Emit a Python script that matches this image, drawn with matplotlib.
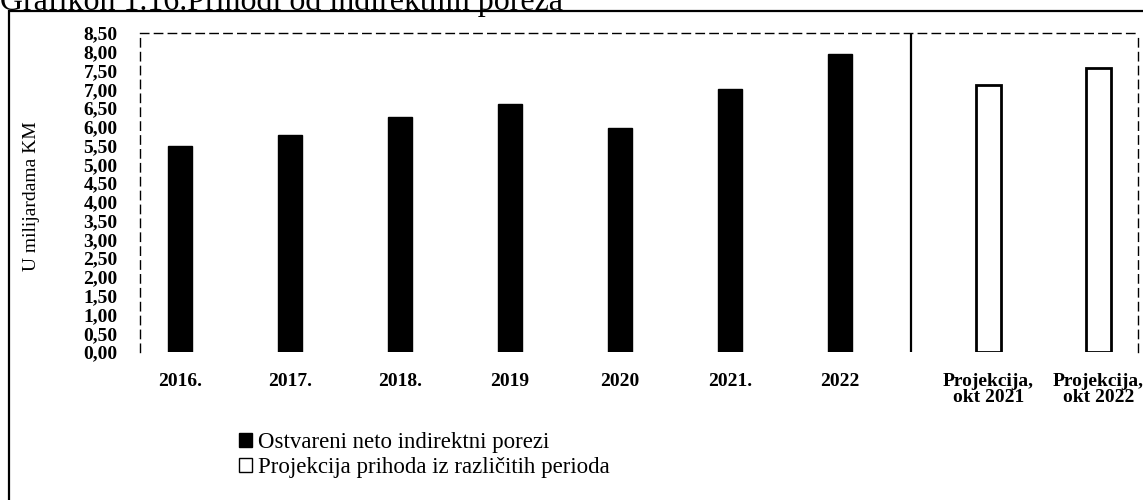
import matplotlib.pyplot as plt
from matplotlib.patches import Patch, Rectangle

# values in billions KM
years = ["2016.", "2017.", "2018.", "2019", "2020", "2021.", "2022"]
actual = [5.50, 5.77, 6.26, 6.60, 5.96, 7.01, 7.94]
proj_labels = ["Projekcija,\nokt 2021", "Projekcija,\nokt 2022"]
projections = [7.12, 7.57]
y_ticks = [i * 0.5 for i in range(18)]

plt.rcParams["font.family"] = ["Liberation Serif", "DejaVu Serif"]

W, H = 1143, 500
fig = plt.figure(figsize=(W / 100, H / 100), dpi=100)

# axes in pixel terms: left 140, right 1138, top 33, bottom 352
ax = fig.add_axes([140 / W, 1 - 352 / H, (1138 - 140) / W, (352 - 33) / H])

x_act = list(range(len(years)))
x_proj = [7.35, 8.35]
bw = 0.22

ax.bar(x_act, actual, width=bw, color="black", edgecolor="black")
ax.bar(x_proj, projections, width=bw, color="white", edgecolor="black", linewidth=2)

# separator between realised values and projections
ax.axvline(6.65, ymin=0, ymax=1, color="black", lw=1.6)

ax.set_xlim(-0.364, 8.71)
ax.set_ylim(0, 8.5)
ax.set_yticks(y_ticks)
ax.set_yticklabels([f"{v:.2f}".replace(".", ",") for v in y_ticks],
                   fontsize=14, fontweight="bold")
ax.set_xticks(x_act + x_proj)
ax.set_xticklabels(years + proj_labels, fontsize=14, fontweight="bold",
                   linespacing=0.9)
ax.tick_params(axis="x", length=0, pad=15)
ax.tick_params(axis="y", length=0, pad=16)

for side in ["left", "top", "right"]:
    ax.spines[side].set_linestyle((0, (6, 4)))
    ax.spines[side].set_linewidth(1.0)
ax.spines["bottom"].set_visible(False)

ax.set_ylabel("U milijardama KM", fontsize=14)
ax.yaxis.set_label_coords(-100 / (1138 - 140), 0.49)

# outer frame of the figure box
fig.patches.append(Rectangle((9 / W, -0.1), 1.2, 1.1 - 11 / H,
                             transform=fig.transFigure, fill=False,
                             edgecolor="black", linewidth=1.6))

# title, partly cut by the top of the scan as in the source
fig.text(0.0, 1 - 10 / H, "Grafikon 1.16.Prihodi od indirektnih poreza",
         fontsize=23, va="baseline", ha="left")

handles = [Patch(facecolor="black", edgecolor="black"),
           Patch(facecolor="white", edgecolor="black")]
fig.legend(handles, ["Ostvareni neto indirektni porezi",
                     "Projekcija prihoda iz različitih perioda"],
           loc="upper left", bbox_to_anchor=(228 / W, 1 - 421 / H),
           frameon=False, fontsize=16.5, handlelength=0.55, handleheight=0.55,
           handletextpad=0.25, borderpad=0, labelspacing=0.15)

fig.savefig("out.png", dpi=100)
